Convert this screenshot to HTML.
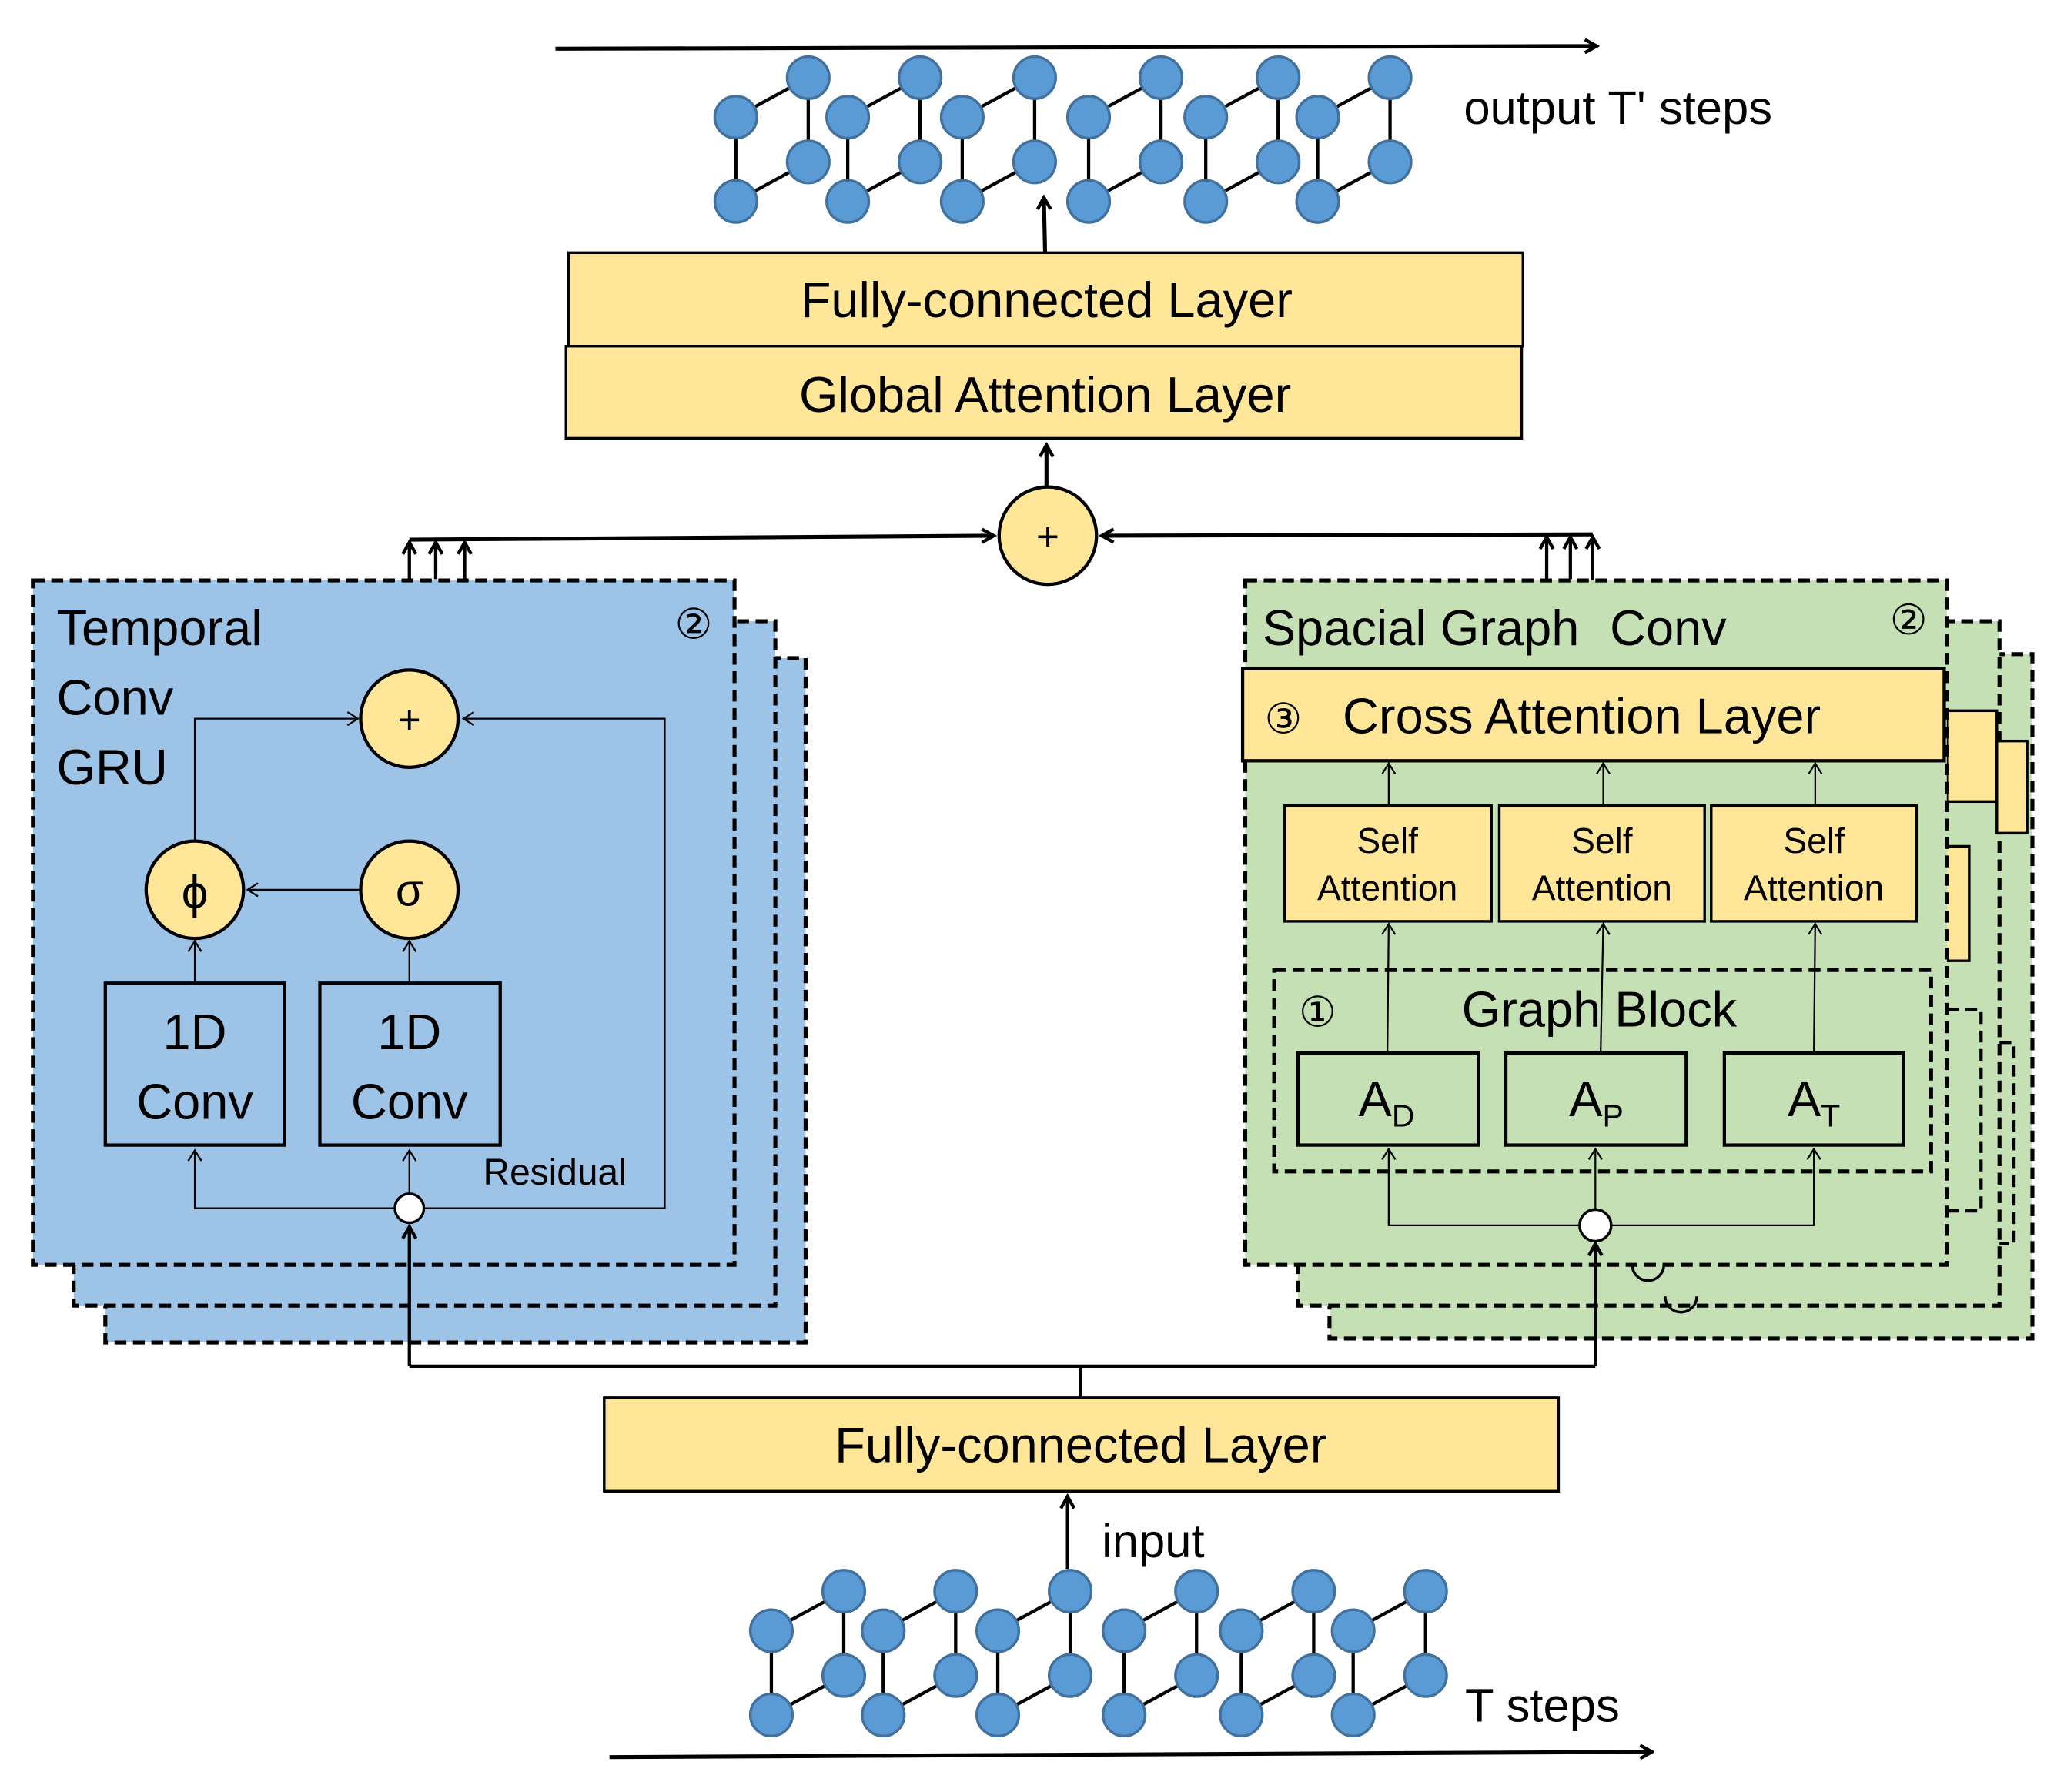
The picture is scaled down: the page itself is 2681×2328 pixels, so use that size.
<!DOCTYPE html>
<html><head><meta charset="utf-8"><style>
html,body{margin:0;padding:0;background:#fff;}
svg{display:block;}
text{font-family:"Liberation Sans",sans-serif;fill:#000;}
</style></head><body>
<svg width="2681" height="2328" viewBox="0 0 1568 1361.5" xmlns="http://www.w3.org/2000/svg">
<defs>
<marker id="a" markerWidth="12" markerHeight="12" refX="10" refY="6" orient="auto" markerUnits="userSpaceOnUse"><path d="M1,1 L10,6 L1,11" fill="none" stroke="#000" stroke-width="2.5"/></marker>
<marker id="s" markerWidth="12" markerHeight="12" refX="10" refY="6" orient="auto" markerUnits="userSpaceOnUse"><path d="M2,1 L10,6 L2,11" fill="none" stroke="#000" stroke-width="1.3"/></marker>
<g id="grp" stroke="#000" stroke-width="2.5">
<line x1="0" y1="30" x2="55" y2="0"/><line x1="0" y1="30" x2="0" y2="94"/><line x1="55" y1="0" x2="55" y2="64"/><line x1="0" y1="94" x2="55" y2="64"/>
<g fill="#5b9bd5" stroke="#41719c" stroke-width="2"><circle cx="0" cy="30" r="16"/><circle cx="55" cy="0" r="16"/><circle cx="0" cy="94" r="16"/><circle cx="55" cy="64" r="16"/></g>
</g>
</defs>

<!-- top output -->
<line x1="422" y1="37" x2="1213" y2="35" stroke="#000" stroke-width="3" marker-end="url(#a)"/>
<use href="#grp" x="559" y="59"/><use href="#grp" x="644" y="59"/><use href="#grp" x="731" y="59"/><use href="#grp" x="827" y="59"/><use href="#grp" x="916" y="59"/><use href="#grp" x="1001" y="59"/>
<text x="1112" y="94" font-size="36">output T' steps</text>
<line x1="794" y1="194" x2="793" y2="150" stroke="#000" stroke-width="3" marker-end="url(#a)"/>

<rect x="432" y="192" width="725" height="71" fill="#ffe699" stroke="#000" stroke-width="2"/>
<text x="795" y="241" font-size="38" text-anchor="middle">Fully-connected Layer</text>
<rect x="430" y="263" width="726" height="70" fill="#ffe699" stroke="#000" stroke-width="2"/>
<text x="794" y="313" font-size="38" text-anchor="middle">Global Attention Layer</text>
<line x1="795" y1="370" x2="795" y2="338" stroke="#000" stroke-width="3" marker-end="url(#a)"/>

<circle cx="796" cy="407" r="37" fill="#ffe699" stroke="#000" stroke-width="2.5"/>
<text x="796" y="418" font-size="30" text-anchor="middle">+</text>
<line x1="311" y1="410" x2="755" y2="407" stroke="#000" stroke-width="3" marker-end="url(#a)"/>
<line x1="1210" y1="406" x2="837" y2="407" stroke="#000" stroke-width="3" marker-end="url(#a)"/>
<line x1="311" y1="510" x2="311" y2="412" stroke="#000" stroke-width="2.5" marker-end="url(#a)"/>
<line x1="331" y1="440" x2="331" y2="412" stroke="#000" stroke-width="2.5" marker-end="url(#a)"/>
<line x1="353" y1="440" x2="353" y2="412" stroke="#000" stroke-width="2.5" marker-end="url(#a)"/>
<line x1="1175" y1="440" x2="1175" y2="408" stroke="#000" stroke-width="2.5" marker-end="url(#a)"/>
<line x1="1193" y1="440" x2="1193" y2="408" stroke="#000" stroke-width="2.5" marker-end="url(#a)"/>
<line x1="1210" y1="508" x2="1210" y2="408" stroke="#000" stroke-width="2.5" marker-end="url(#a)"/>

<!-- left blue panels -->
<g stroke="#000" stroke-width="3" stroke-dasharray="9,5" fill="#9dc3e6">
<rect x="80" y="500" width="532" height="520"/>
<rect x="56" y="472" width="533" height="520"/>
<rect x="25" y="441" width="533" height="520"/>
</g>
<text x="43" y="490" font-size="38">Temporal</text>
<text x="43" y="543" font-size="38">Conv</text>
<text x="43" y="596" font-size="38">GRU</text>
<text x="527" y="485" font-size="32" text-anchor="middle">②</text>
<g stroke="#000" stroke-width="1.3" fill="none">
<polyline points="311,907 148,918 148,918" stroke="none"/>
<polyline points="300,918 148,918 148,874" marker-end="url(#s)"/>
<line x1="311" y1="907" x2="311" y2="874" marker-end="url(#s)"/>
<polyline points="322,918 505,918 505,546 352,546" marker-end="url(#s)"/>
<line x1="148" y1="747" x2="148" y2="715" marker-end="url(#s)"/>
<line x1="311" y1="747" x2="311" y2="715" marker-end="url(#s)"/>
<line x1="274" y1="676" x2="188" y2="676" marker-end="url(#s)"/>
<polyline points="148,639 148,546 272,546" marker-end="url(#s)"/>
</g>
<circle cx="311" cy="546" r="37" fill="#ffe699" stroke="#000" stroke-width="2.5"/>
<text x="311" y="557" font-size="30" text-anchor="middle">+</text>
<circle cx="148" cy="676" r="37" fill="#ffe699" stroke="#000" stroke-width="2.5"/>
<text x="148" y="690" font-size="36" text-anchor="middle" font-family="Liberation Serif">ϕ</text>
<circle cx="311" cy="676" r="37" fill="#ffe699" stroke="#000" stroke-width="2.5"/>
<text x="311" y="688" font-size="34" text-anchor="middle" font-family="Liberation Serif">σ</text>
<rect x="80" y="747" width="136" height="123" fill="none" stroke="#000" stroke-width="2.5"/>
<rect x="243" y="747" width="137" height="123" fill="none" stroke="#000" stroke-width="2.5"/>
<text x="148" y="797" font-size="38" text-anchor="middle">1D</text>
<text x="148" y="850" font-size="38" text-anchor="middle">Conv</text>
<text x="311" y="797" font-size="38" text-anchor="middle">1D</text>
<text x="311" y="850" font-size="38" text-anchor="middle">Conv</text>
<text x="367" y="900" font-size="28">Residual</text>
<circle cx="311" cy="918" r="11" fill="#fff" stroke="#000" stroke-width="2"/>

<!-- right green panels -->
<g stroke="#000" stroke-width="3" stroke-dasharray="9,5" fill="#c5e0b4">
<rect x="1010" y="497" width="534" height="520"/>
<rect x="986" y="472" width="533" height="520"/>
</g>
<rect x="1479" y="540" width="38" height="69" fill="#ffe699" stroke="#000" stroke-width="2"/>
<rect x="1517" y="563" width="23" height="70" fill="#ffe699" stroke="#000" stroke-width="2"/>
<polyline points="1479,643 1496,643 1496,730 1479,730" fill="#ffe699" stroke="#000" stroke-width="2"/>
<polyline points="1479,767 1505,767 1505,920 1479,920" fill="none" stroke="#000" stroke-width="2.5" stroke-dasharray="9,5"/>
<polyline points="1519,792 1530,792 1530,945 1519,945" fill="none" stroke="#000" stroke-width="2.5" stroke-dasharray="9,5"/>
<rect x="946" y="441" width="533" height="520" fill="#c5e0b4" stroke="#000" stroke-width="3" stroke-dasharray="9,5"/>
<path d="M1240,961 a12,12 0 0 0 24,0" fill="none" stroke="#000" stroke-width="2"/>
<path d="M1265,985 a12,12 0 0 0 24,0" fill="none" stroke="#000" stroke-width="2"/>
<text x="959" y="490" font-size="38">Spacial Graph</text>
<text x="1223" y="490" font-size="38">Conv</text>
<text x="1450" y="482" font-size="32" text-anchor="middle">②</text>
<rect x="944" y="508" width="533" height="70" fill="#ffe699" stroke="#000" stroke-width="2.5"/>
<text x="975" y="557" font-size="32" text-anchor="middle">③</text>
<text x="1020" y="557" font-size="38">Cross Attention Layer</text>
<g stroke="#000" stroke-width="1.3" fill="none">
<line x1="1055" y1="612" x2="1055" y2="580" marker-end="url(#s)"/>
<line x1="1218" y1="612" x2="1218" y2="580" marker-end="url(#s)"/>
<line x1="1379" y1="612" x2="1379" y2="580" marker-end="url(#s)"/>
<line x1="1054" y1="800" x2="1055" y2="702" marker-end="url(#s)"/>
<line x1="1216" y1="800" x2="1218" y2="702" marker-end="url(#s)"/>
<line x1="1378" y1="800" x2="1379" y2="702" marker-end="url(#s)"/>
<polyline points="1200,931 1055,931 1055,873" marker-end="url(#s)"/>
<line x1="1212" y1="920" x2="1212" y2="873" marker-end="url(#s)"/>
<polyline points="1224,931 1378,931 1378,873" marker-end="url(#s)"/>
</g>
<g fill="#ffe699" stroke="#000" stroke-width="2">
<rect x="976" y="612" width="157" height="88"/>
<rect x="1139" y="612" width="156" height="88"/>
<rect x="1300" y="612" width="156" height="88"/>
</g>
<g font-size="27" text-anchor="middle">
<text x="1054" y="648">Self</text><text x="1054" y="684">Attention</text>
<text x="1217" y="648">Self</text><text x="1217" y="684">Attention</text>
<text x="1378" y="648">Self</text><text x="1378" y="684">Attention</text>
</g>
<rect x="968" y="737" width="499" height="153" fill="none" stroke="#000" stroke-width="3" stroke-dasharray="9,5"/>
<text x="1001" y="780" font-size="32" text-anchor="middle">①</text>
<text x="1215" y="780" font-size="38" text-anchor="middle">Graph Block</text>
<g fill="none" stroke="#000" stroke-width="2.5">
<rect x="986" y="800" width="137" height="70"/>
<rect x="1144" y="800" width="137" height="70"/>
<rect x="1310" y="800" width="136" height="70"/>
</g>
<text x="1032" y="848" font-size="38">A<tspan font-size="24" dy="8">D</tspan></text>
<text x="1192" y="848" font-size="38">A<tspan font-size="24" dy="8">P</tspan></text>
<text x="1358" y="848" font-size="38">A<tspan font-size="24" dy="8">T</tspan></text>
<circle cx="1212" cy="931" r="12" fill="#fff" stroke="#000" stroke-width="2"/>

<!-- input connectors -->
<g stroke="#000" stroke-width="2.5" fill="none">
<line x1="821" y1="1062" x2="821" y2="1038"/>
<line x1="311" y1="1038" x2="1212" y2="1038"/>
<line x1="311" y1="1038" x2="311" y2="932" marker-end="url(#a)"/>
<line x1="1212" y1="1038" x2="1212" y2="945" marker-end="url(#a)"/>
</g>
<rect x="459" y="1062" width="725" height="71" fill="#ffe699" stroke="#000" stroke-width="2"/>
<text x="821" y="1111" font-size="38" text-anchor="middle">Fully-connected Layer</text>
<line x1="811" y1="1192" x2="811" y2="1137" stroke="#000" stroke-width="2.5" marker-end="url(#a)"/>
<text x="837" y="1183" font-size="36">input</text>

<use href="#grp" x="586" y="1209"/><use href="#grp" x="671" y="1209"/><use href="#grp" x="758" y="1209"/><use href="#grp" x="854" y="1209"/><use href="#grp" x="943" y="1209"/><use href="#grp" x="1028" y="1209"/>
<text x="1113" y="1308" font-size="36">T steps</text>
<line x1="463" y1="1335" x2="1255" y2="1331" stroke="#000" stroke-width="3" marker-end="url(#a)"/>
</svg>
</body></html>
